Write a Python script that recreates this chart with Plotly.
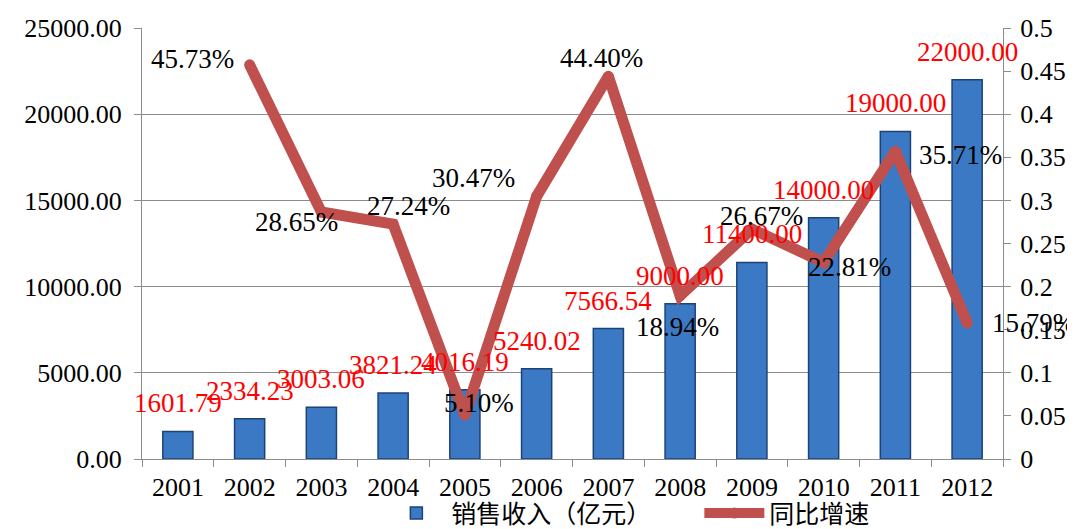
import plotly.graph_objects as go

years = ["2001", "2002", "2003", "2004", "2005", "2006", "2007", "2008", "2009", "2010", "2011", "2012"]
revenue = [1601.79, 2334.23, 3003.06, 3821.24, 4016.19, 5240.02, 7566.54, 9000.00, 11400.00, 14000.00, 19000.00, 22000.00]
growth_years = ["2002", "2003", "2004", "2005", "2006", "2007", "2008", "2009", "2010", "2011", "2012"]
growth = [0.4573, 0.2865, 0.2724, 0.0510, 0.3047, 0.4440, 0.1894, 0.2667, 0.2281, 0.3571, 0.1579]
growth_labels = ["45.73%", "28.65%", "27.24%", "5.10%", "30.47%", "44.40%", "18.94%", "26.67%", "22.81%", "35.71%", "15.79%"]
bar_name = "销售收入（亿元）"
line_name = "同比增速"

FONT = "Times New Roman, Liberation Serif, Tinos, DejaVu Serif, serif"
LEG_FONT = "Times New Roman, Liberation Serif, DejaVu Serif, Noto Sans CJK SC, serif"
GRID = "#8c8c8c"
RED_LINE = "#C0504D"

fig = go.Figure()
fig.add_trace(go.Bar(
    x=years, y=revenue, name=bar_name, width=0.42,
    marker=dict(color="#3B79C4", line=dict(color="#1C4378", width=1.5)),
    yaxis="y",
))
fig.add_trace(go.Scatter(
    x=growth_years, y=growth, name=line_name, mode="lines+markers",
    line=dict(color=RED_LINE, width=11),
    marker=dict(color=RED_LINE, size=11),
    yaxis="y2",
))

annotations = []
for yr, v in zip(years, revenue):
    annotations.append(dict(
        x=years.index(yr), y=v, xref="x", yref="y", text=f"{v:.2f}", showarrow=False,
        yshift=28, yanchor="middle", xanchor="center",
        font=dict(family=FONT, size=27, color="#FF0000"),
    ))

pct_offsets = [(-57, 6), (-25, -10), (15, 18), (14, 12), (-63, 18), (-7, 18),
               (-3, -31), (10, 13), (26, -5), (65, -4), (66, 0)]
for yr, v, lab, (dx, dy) in zip(growth_years, growth, growth_labels, pct_offsets):
    annotations.append(dict(
        x=years.index(yr), y=v, xref="x", yref="y2", text=lab, showarrow=False,
        xshift=dx, yshift=dy, yanchor="middle", xanchor="center",
        font=dict(family=FONT, size=27, color="#000000"),
    ))

fig.update_layout(
    width=1067, height=521,
    margin=dict(l=134, r=72, t=20, b=70, autoexpand=False),
    paper_bgcolor="white", plot_bgcolor="white",
    font=dict(family=FONT, size=26, color="#000000"),
    annotations=annotations,
    showlegend=True,
    legend=dict(
        orientation="h", x=0.278, xanchor="left",
        yref="container", y=0.03, yanchor="middle",
        font=dict(family=LEG_FONT, size=25, color="#000000"),
        bgcolor="rgba(0,0,0,0)", itemwidth=60,
        entrywidth=243, entrywidthmode="pixels",
    ),
    xaxis=dict(
        type="category", range=[-0.5, len(years) - 0.5], automargin=False,
        showline=True, linecolor=GRID, linewidth=1,
        ticks="outside", tickson="boundaries", ticklen=7, tickcolor=GRID,
        ticklabelstandoff=5,
        tickfont=dict(family=FONT, size=26), showgrid=False, tickangle=0,
    ),
    yaxis=dict(
        range=[0, 25000], dtick=5000, tickformat=".2f", automargin=False,
        showline=True, linecolor=GRID, linewidth=1,
        ticks="outside", ticklen=7, tickcolor=GRID, ticklabelstandoff=7,
        showgrid=True, gridcolor=GRID, gridwidth=1, zeroline=False,
        tickfont=dict(family=FONT, size=26),
    ),
    yaxis2=dict(
        range=[0, 0.5], dtick=0.05, overlaying="y", side="right", automargin=False,
        showline=True, linecolor=GRID, linewidth=1,
        ticks="outside", ticklen=7, tickcolor=GRID, ticklabelstandoff=4,
        showgrid=False, zeroline=False,
        tickfont=dict(family=FONT, size=26),
    ),
)

fig.write_html("out.html")
